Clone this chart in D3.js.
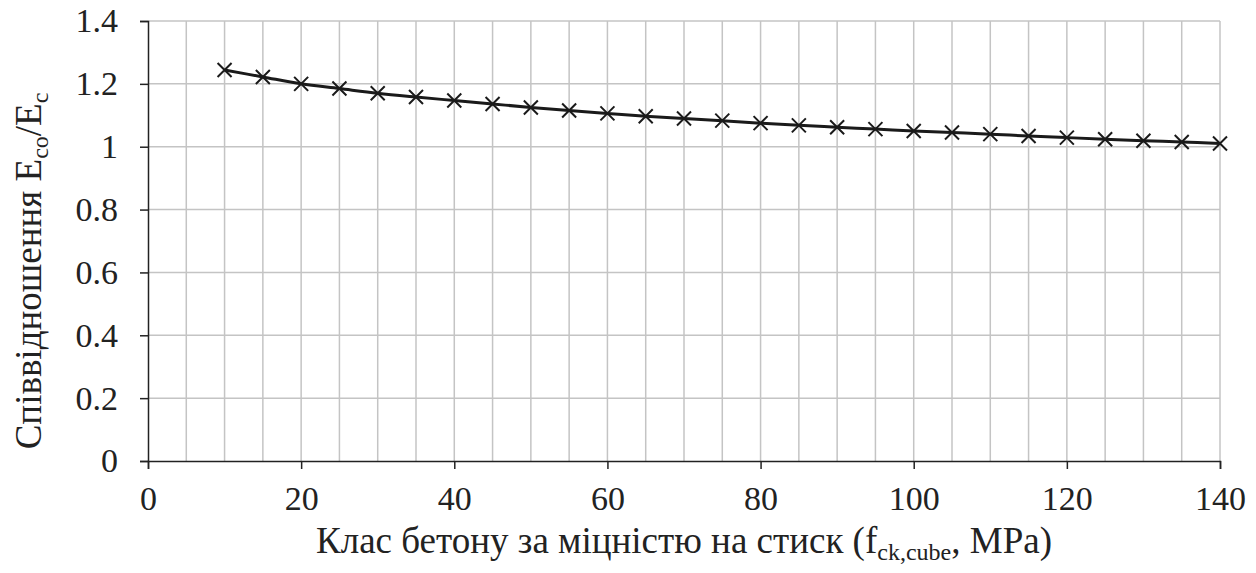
<!DOCTYPE html>
<html>
<head>
<meta charset="utf-8">
<script src="https://cdn.jsdelivr.net/npm/d3@7"></script>
<style>
  body { margin: 0; background: #fff; }
  svg text { font-family: "Liberation Serif", "Times New Roman", "DejaVu Serif", serif; fill: #222; }
</style>
</head>
<body>
<div id="chart"></div>
<script>
// values
const strength = [10, 15, 20, 25, 30, 35, 40, 45, 50, 55, 60, 65, 70, 75, 80,
    85, 90, 95, 100, 105, 110, 115, 120, 125, 130, 135, 140];
const ratio = [1.244, 1.222, 1.200, 1.185, 1.170, 1.158, 1.147, 1.136, 1.125,
    1.115, 1.106, 1.097, 1.090, 1.083, 1.075, 1.068, 1.062, 1.056, 1.050,
    1.045, 1.040, 1.034, 1.029, 1.024, 1.019, 1.015, 1.010];
const xTicks = [0, 20, 40, 60, 80, 100, 120, 140];
const yTicks = [0, 0.2, 0.4, 0.6, 0.8, 1, 1.2, 1.4];

const w = 1256;
const h = 573;
const margin = { left: 148, right: 36, top: 21, bottom: 112 };
const serif = '"Liberation Serif", "Times New Roman", "DejaVu Serif", serif';

const svg = d3.select('#chart')
    .append('svg')
    .attr('width', w)
    .attr('height', h);

const x = d3.scaleLinear().domain([0, 140]).range([margin.left, w - margin.right]);
const y = d3.scaleLinear().domain([0, 1.4]).range([h - margin.bottom, margin.top]);

// grid
const grid = svg.append('g').attr('stroke', '#c4c4c4').attr('stroke-width', 1.5);
grid.selectAll('line.v')
    .data(d3.range(5, 141, 5))
    .enter().append('line')
    .attr('x1', d => x(d)).attr('x2', d => x(d))
    .attr('y1', y(0)).attr('y2', y(1.4));
grid.selectAll('line.h')
    .data(yTicks.slice(1))
    .enter().append('line')
    .attr('x1', x(0)).attr('x2', x(140))
    .attr('y1', d => y(d)).attr('y2', d => y(d));

// axes
const xAxis = svg.append('g')
    .attr('transform', `translate(0,${y(0)})`)
    .call(d3.axisBottom(x).tickValues(xTicks).tickSize(8).tickPadding(17).tickFormat(d3.format('d')));
const yAxis = svg.append('g')
    .attr('transform', `translate(${x(0)},0)`)
    .call(d3.axisLeft(y).tickValues(yTicks).tickSize(8).tickPadding(22).tickFormat(d => String(+d.toFixed(1))));

[xAxis, yAxis].forEach(a => {
    a.attr('font-family', serif).attr('font-size', 34);
    a.select('.domain').attr('stroke', '#222').attr('stroke-width', 1.5);
    a.selectAll('.tick line').attr('stroke', '#222').attr('stroke-width', 1.5);
    a.selectAll('.tick text').attr('fill', '#222');
});

// series line
const pts = strength.map((s, i) => [s, ratio[i]]);
const line = d3.line()
    .x(d => x(d[0]))
    .y(d => y(d[1]))
    .curve(d3.curveCatmullRom);

svg.append('path')
    .datum(pts)
    .attr('d', line)
    .attr('fill', 'none')
    .attr('stroke', '#1a1a1a')
    .attr('stroke-width', 3);

// X markers
const m = 7;
svg.append('g').selectAll('path')
    .data(pts)
    .enter().append('path')
    .attr('d', d => {
        const cx = x(d[0]), cy = y(d[1]);
        return `M${cx - m},${cy - m}L${cx + m},${cy + m}M${cx - m},${cy + m}L${cx + m},${cy - m}`;
    })
    .attr('stroke', '#1a1a1a')
    .attr('stroke-width', 2);

// axis titles
const xt = svg.append('text')
    .attr('x', (x(0) + x(140)) / 2)
    .attr('y', 553)
    .attr('text-anchor', 'middle')
    .attr('font-family', serif)
    .attr('font-size', 37);
xt.append('tspan').text('Клас бетону за міцністю на стиск (f');
xt.append('tspan').attr('font-size', 24).attr('dy', 7).text('ck,cube');
xt.append('tspan').attr('dy', -7).text(', MPa)');

const yt = svg.append('text')
    .attr('transform', `translate(41,${(y(0) + y(1.4)) / 2 + 30}) rotate(-90)`)
    .attr('text-anchor', 'middle')
    .attr('font-family', serif)
    .attr('font-size', 37);
yt.append('tspan').text('Співвідношення E');
yt.append('tspan').attr('font-size', 24).attr('dy', 7).text('co');
yt.append('tspan').attr('dy', -7).text('/E');
yt.append('tspan').attr('font-size', 24).attr('dy', 7).text('c');
</script>
</body>
</html>
